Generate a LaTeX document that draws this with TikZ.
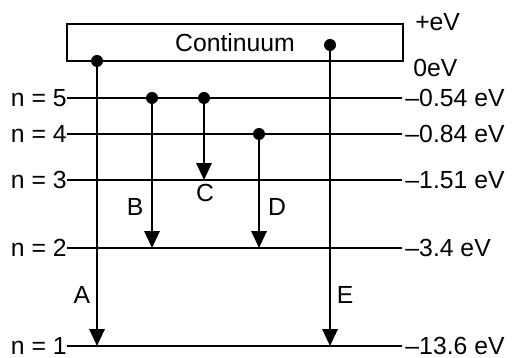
\documentclass[tikz,border=0pt]{standalone}
\usepackage{fontspec}
\setmainfont{Liberation Sans}
\usetikzlibrary{arrows.meta, positioning}

\begin{document}
\begin{tikzpicture}[
    level/.style={line width=1.5pt},
    trans/.style={line width=1.5pt, -{Triangle[width=0.38cm, length=0.42cm]}},
    dot/.style={circle, fill, inner sep=0pt, minimum size=0.3cm},
    lbl/.style={font=\fontsize{17.6}{20}\selectfont, inner sep=0pt},
]
\useasboundingbox (0,0) rectangle (13,8.925);

\node[lbl, draw, line width=1.5pt, minimum width=8.4cm, minimum height=0.925cm] (cont) at (5.875,7.8625) {Continuum};
\node[lbl, anchor=west] (plus) at (10.375,8.375) {+eV};
\node[lbl, anchor=west] (zero) at (10.325,7.225) {0eV};

\foreach \n/\y/\e in {5/6.475/{–0.54 eV}, 4/5.575/{–0.84 eV}, 3/4.425/{–1.51 eV}, 2/2.725/{–3.4 eV}, 1/0.275/{–13.6 eV}} {
  \coordinate (a\n) at (1.675,\y);
  \coordinate (b\n) at (10.05,\y);
  \draw[level] (a\n) -- (b\n);
  \node[lbl, left=0pt of a\n] (n\n) {n = \n};
  \node[lbl, right=0.08cm of b\n] (e\n) {\e};
}

\coordinate (sA) at (2.425,7.4);
\coordinate (sB) at (3.8,6.475);
\coordinate (sC) at (5.1,6.475);
\coordinate (sD) at (6.475,5.575);
\coordinate (sE) at (8.25,7.8);

\draw[trans] (sA) -- (sA |- a1);
\draw[trans] (sB) -- (sB |- a2);
\draw[trans] (sC) -- (sC |- a3);
\draw[trans] (sD) -- (sD |- a2);
\draw[trans] (sE) -- (sE |- a1);

\foreach \s in {A,B,C,D,E}
  \node[dot] (d\s) at (s\s) {};

\node[lbl] (tA) at (2.05,1.55) {A};
\node[lbl] (tB) at (3.375,3.75) {B};
\node[lbl] (tC) at (5.125,4.1) {C};
\node[lbl] (tD) at (6.925,3.75) {D};
\node[lbl] (tE) at (8.625,1.55) {E};
\end{tikzpicture}
\end{document}
